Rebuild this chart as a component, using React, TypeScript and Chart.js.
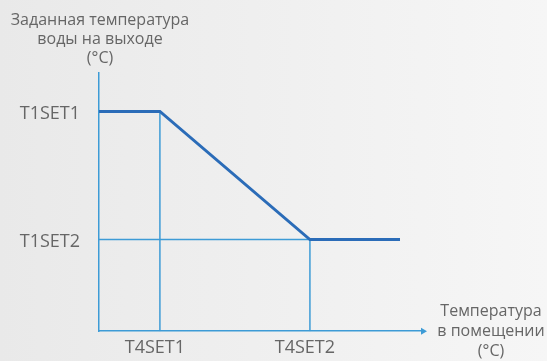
import React, { useEffect, useRef } from "react";
import { Chart, registerables } from "chart.js";

Chart.register(...registerables);

// Data (axis units: 0..100 on both axes)
const curveX = [0, 18.8, 65.1, 92.9];
const curveY = [85.1, 85.1, 35.5, 35.5];
const xTickValues = [18.8, 65.1];
const xTickLabels = ["T4SET1", "T4SET2"];
const yTickValues = [85.1, 35.5];
const yTickLabels = ["T1SET1", "T1SET2"];
const yTitleLines = ["Заданная температура", "воды на выходе", "(°C)"];
const xTitleLines = ["Температура", "в помещении", "(°C)"];

const MAIN = "#2b6cb8";
const GUIDE = "#3d9bd6";
const TEXT = "#666666";
const FONT = "'Open Sans', sans-serif";

export default function App() {
  const ref = useRef<HTMLCanvasElement | null>(null);

  useEffect(() => {
    if (!ref.current) return;

    const titles = {
      id: "axisTitles",
      afterDraw(chart: any) {
        const ctx = chart.ctx;
        const { left, right, top, bottom } = chart.chartArea;
        ctx.save();
        ctx.fillStyle = TEXT;
        ctx.font = `16px ${FONT}`;
        ctx.textAlign = "center";
        ctx.textBaseline = "middle";
        yTitleLines.forEach((t, i) => ctx.fillText(t, left + 1, top - 53 + i * 19));
        xTitleLines.forEach((t, i) => ctx.fillText(t, right + 68, bottom - 20 + i * 20));
        ctx.restore();
      },
    };

    const chart = new Chart(ref.current, {
      type: "line",
      data: {
        datasets: [
          {
            data: curveX.map((x, i) => ({ x, y: curveY[i] })),
            borderColor: MAIN,
            borderWidth: 3,
            pointRadius: 0,
            tension: 0,
            clip: false as any,
          },
          {
            data: [
              { x: xTickValues[0], y: 0 },
              { x: xTickValues[0], y: yTickValues[0] },
            ],
            borderColor: GUIDE,
            borderWidth: 1.5,
            pointRadius: 0,
          },
          {
            data: [
              { x: 0, y: yTickValues[1] },
              { x: xTickValues[1], y: yTickValues[1] },
              { x: xTickValues[1], y: 0 },
            ],
            borderColor: GUIDE,
            borderWidth: 1.5,
            pointRadius: 0,
          },
          {
            data: [{ x: 100, y: 0 }],
            showLine: false,
            pointStyle: "triangle",
            rotation: 90,
            pointRadius: 4,
            backgroundColor: GUIDE,
            borderColor: GUIDE,
            borderWidth: 0,
            clip: false as any,
          } as any,
        ],
      },
      options: {
        animation: false,
        responsive: true,
        maintainAspectRatio: false,
        layout: { padding: { left: 0, top: 73, right: 124, bottom: 0 } },
        plugins: { legend: { display: false }, tooltip: { enabled: false } },
        scales: {
          x: {
            type: "linear",
            min: 0,
            max: 100,
            grid: { display: false, drawTicks: false },
            border: { display: true, color: GUIDE, width: 1.5 },
            afterBuildTicks: (scale: any) => {
              scale.ticks = xTickValues.map((v) => ({ value: v }));
            },
            afterFit: (scale: any) => {
              scale.height = 26;
            },
            ticks: {
              padding: 6,
              labelOffset: -5,
              color: TEXT,
              font: { size: 18, family: FONT },
              maxRotation: 0,
              autoSkip: false,
              callback: (v: any) => xTickLabels[xTickValues.indexOf(v)] ?? "",
            },
          },
          y: {
            type: "linear",
            min: 0,
            max: 100,
            grid: { display: false, drawTicks: false },
            border: { display: true, color: GUIDE, width: 1.5 },
            afterBuildTicks: (scale: any) => {
              scale.ticks = yTickValues.map((v) => ({ value: v }));
            },
            afterFit: (scale: any) => {
              scale.width = 99;
            },
            ticks: {
              padding: 19,
              labelOffset: 2,
              color: TEXT,
              font: { size: 18, family: FONT },
              autoSkip: false,
              callback: (v: any) => yTickLabels[yTickValues.indexOf(v)] ?? "",
            },
          },
        },
      },
      plugins: [titles],
    } as any);

    return () => chart.destroy();
  }, []);

  return (
    <div
      style={{
        position: "fixed",
        left: 0,
        top: 0,
        width: 547,
        height: 361,
        background: "linear-gradient(to right, #e9e9e9, #f6f6f6)",
      }}
    >
      <canvas ref={ref} />
    </div>
  );
}
